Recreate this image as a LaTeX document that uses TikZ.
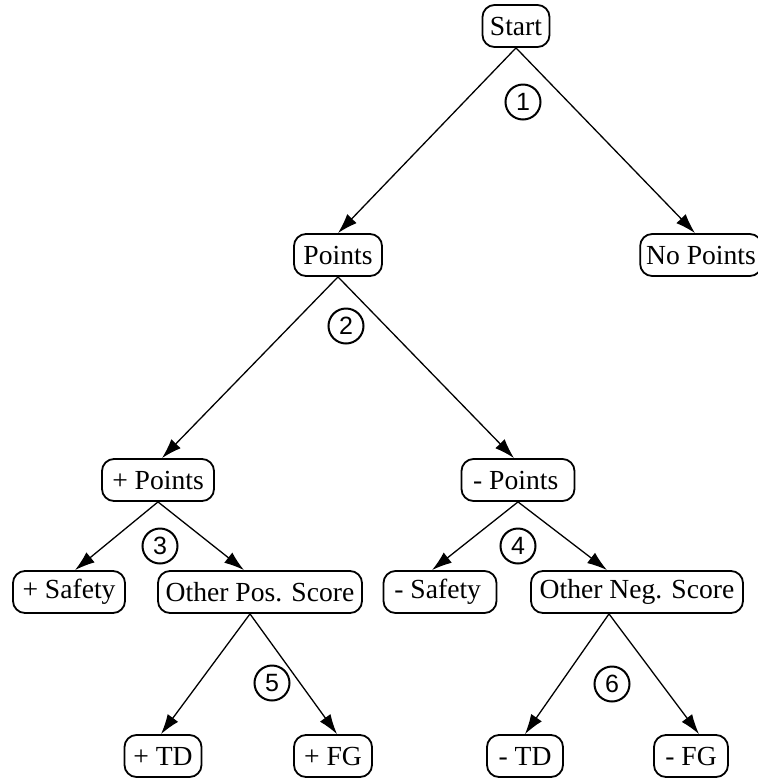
\documentclass[tikz,border=0pt]{standalone}
\usepackage{fontspec}
\setmainfont{Liberation Serif}
\newfontfamily\numfont{Liberation Sans}
\usetikzlibrary{arrows.meta}
\tikzset{
  box/.style={draw,line width=0.9pt,rounded corners=6pt,minimum height=21pt,
    inner xsep=3pt,inner ysep=0pt,font=\fontsize{13.8}{16}\selectfont},
  mark num/.style={draw,circle,line width=1pt,minimum size=17.5pt,inner sep=0pt,
    font=\numfont\fontsize{12.5}{14}\selectfont},
  branch/.style={line width=0.65pt,-{Latex[length=10pt,width=6.5pt]}}
}
\begin{document}
\begin{tikzpicture}[x=0.5pt,y=-0.5pt]
  \useasboundingbox (0,0) rectangle (758,778);
  % tree nodes
  \node[box,minimum width=33.5pt] (start) at (516,26) {Start};
  \node[box,minimum width=44pt] (pts) at (338,255) {Points};
  \node[box,minimum width=58pt] (nopts) at (701,255) {No Points};
  \node[box,minimum width=56pt] (ppts) at (158,480) {+ Points};
  \node[box,minimum width=56.5pt] (mpts) at (518,480) {- Points\,};
  \node[box,minimum width=56pt] (psafe) at (69,592) {+ Safety};
  \node[box,minimum width=102pt] (pother) at (260,592) {Other Pos. Score};
  \node[box,minimum width=56.5pt] (msafe) at (440,592) {- Safety\,};
  \node[box,minimum width=106pt] (mother) at (637,592) {Other Neg. Score};
  \node[box,minimum width=38.5pt] (ptd) at (163,756) {+ TD};
  \node[box,minimum width=39pt] (pfg) at (333,756) {+ FG};
  \node[box,minimum width=38pt] (mtd) at (525,756) {- TD};
  \node[box,minimum width=37pt] (mfg) at (691,756) {- FG};
  % numbered splits
  \node[mark num] (n1) at (523,102) {1};
  \node[mark num] (n2) at (346,326) {2};
  \node[mark num] (n3) at (160,546) {3};
  \node[mark num] (n4) at (518,546) {4};
  \node[mark num] (n5) at (272,683) {5};
  \node[mark num] (n6) at (612,684) {6};
  % arrows
  \draw[branch] (start.south) -- (pts.north);
  \draw[branch] (start.south) -- ([xshift=-3pt]nopts.north);
  \draw[branch] (pts.south) -- ([xshift=2pt]ppts.north);
  \draw[branch] (pts.south) -- ([xshift=-2pt]mpts.north);
  \draw[branch] (ppts.south) -- ([xshift=3pt]psafe.north);
  \draw[branch] (ppts.south) -- ([xshift=-8pt]pother.north);
  \draw[branch] (mpts.south) -- ([xshift=-4pt]msafe.north);
  \draw[branch] (mpts.south) -- ([xshift=-15pt]mother.north);
  \draw[branch] ([xshift=-5pt]pother.south) -- ([xshift=-1pt]ptd.north);
  \draw[branch] ([xshift=-5pt]pother.south) -- ([xshift=2pt]pfg.north);
  \draw[branch] ([xshift=-14pt]mother.south) -- (mtd.north);
  \draw[branch] ([xshift=-14pt]mother.south) -- ([xshift=4pt]mfg.north);
\end{tikzpicture}
\end{document}
